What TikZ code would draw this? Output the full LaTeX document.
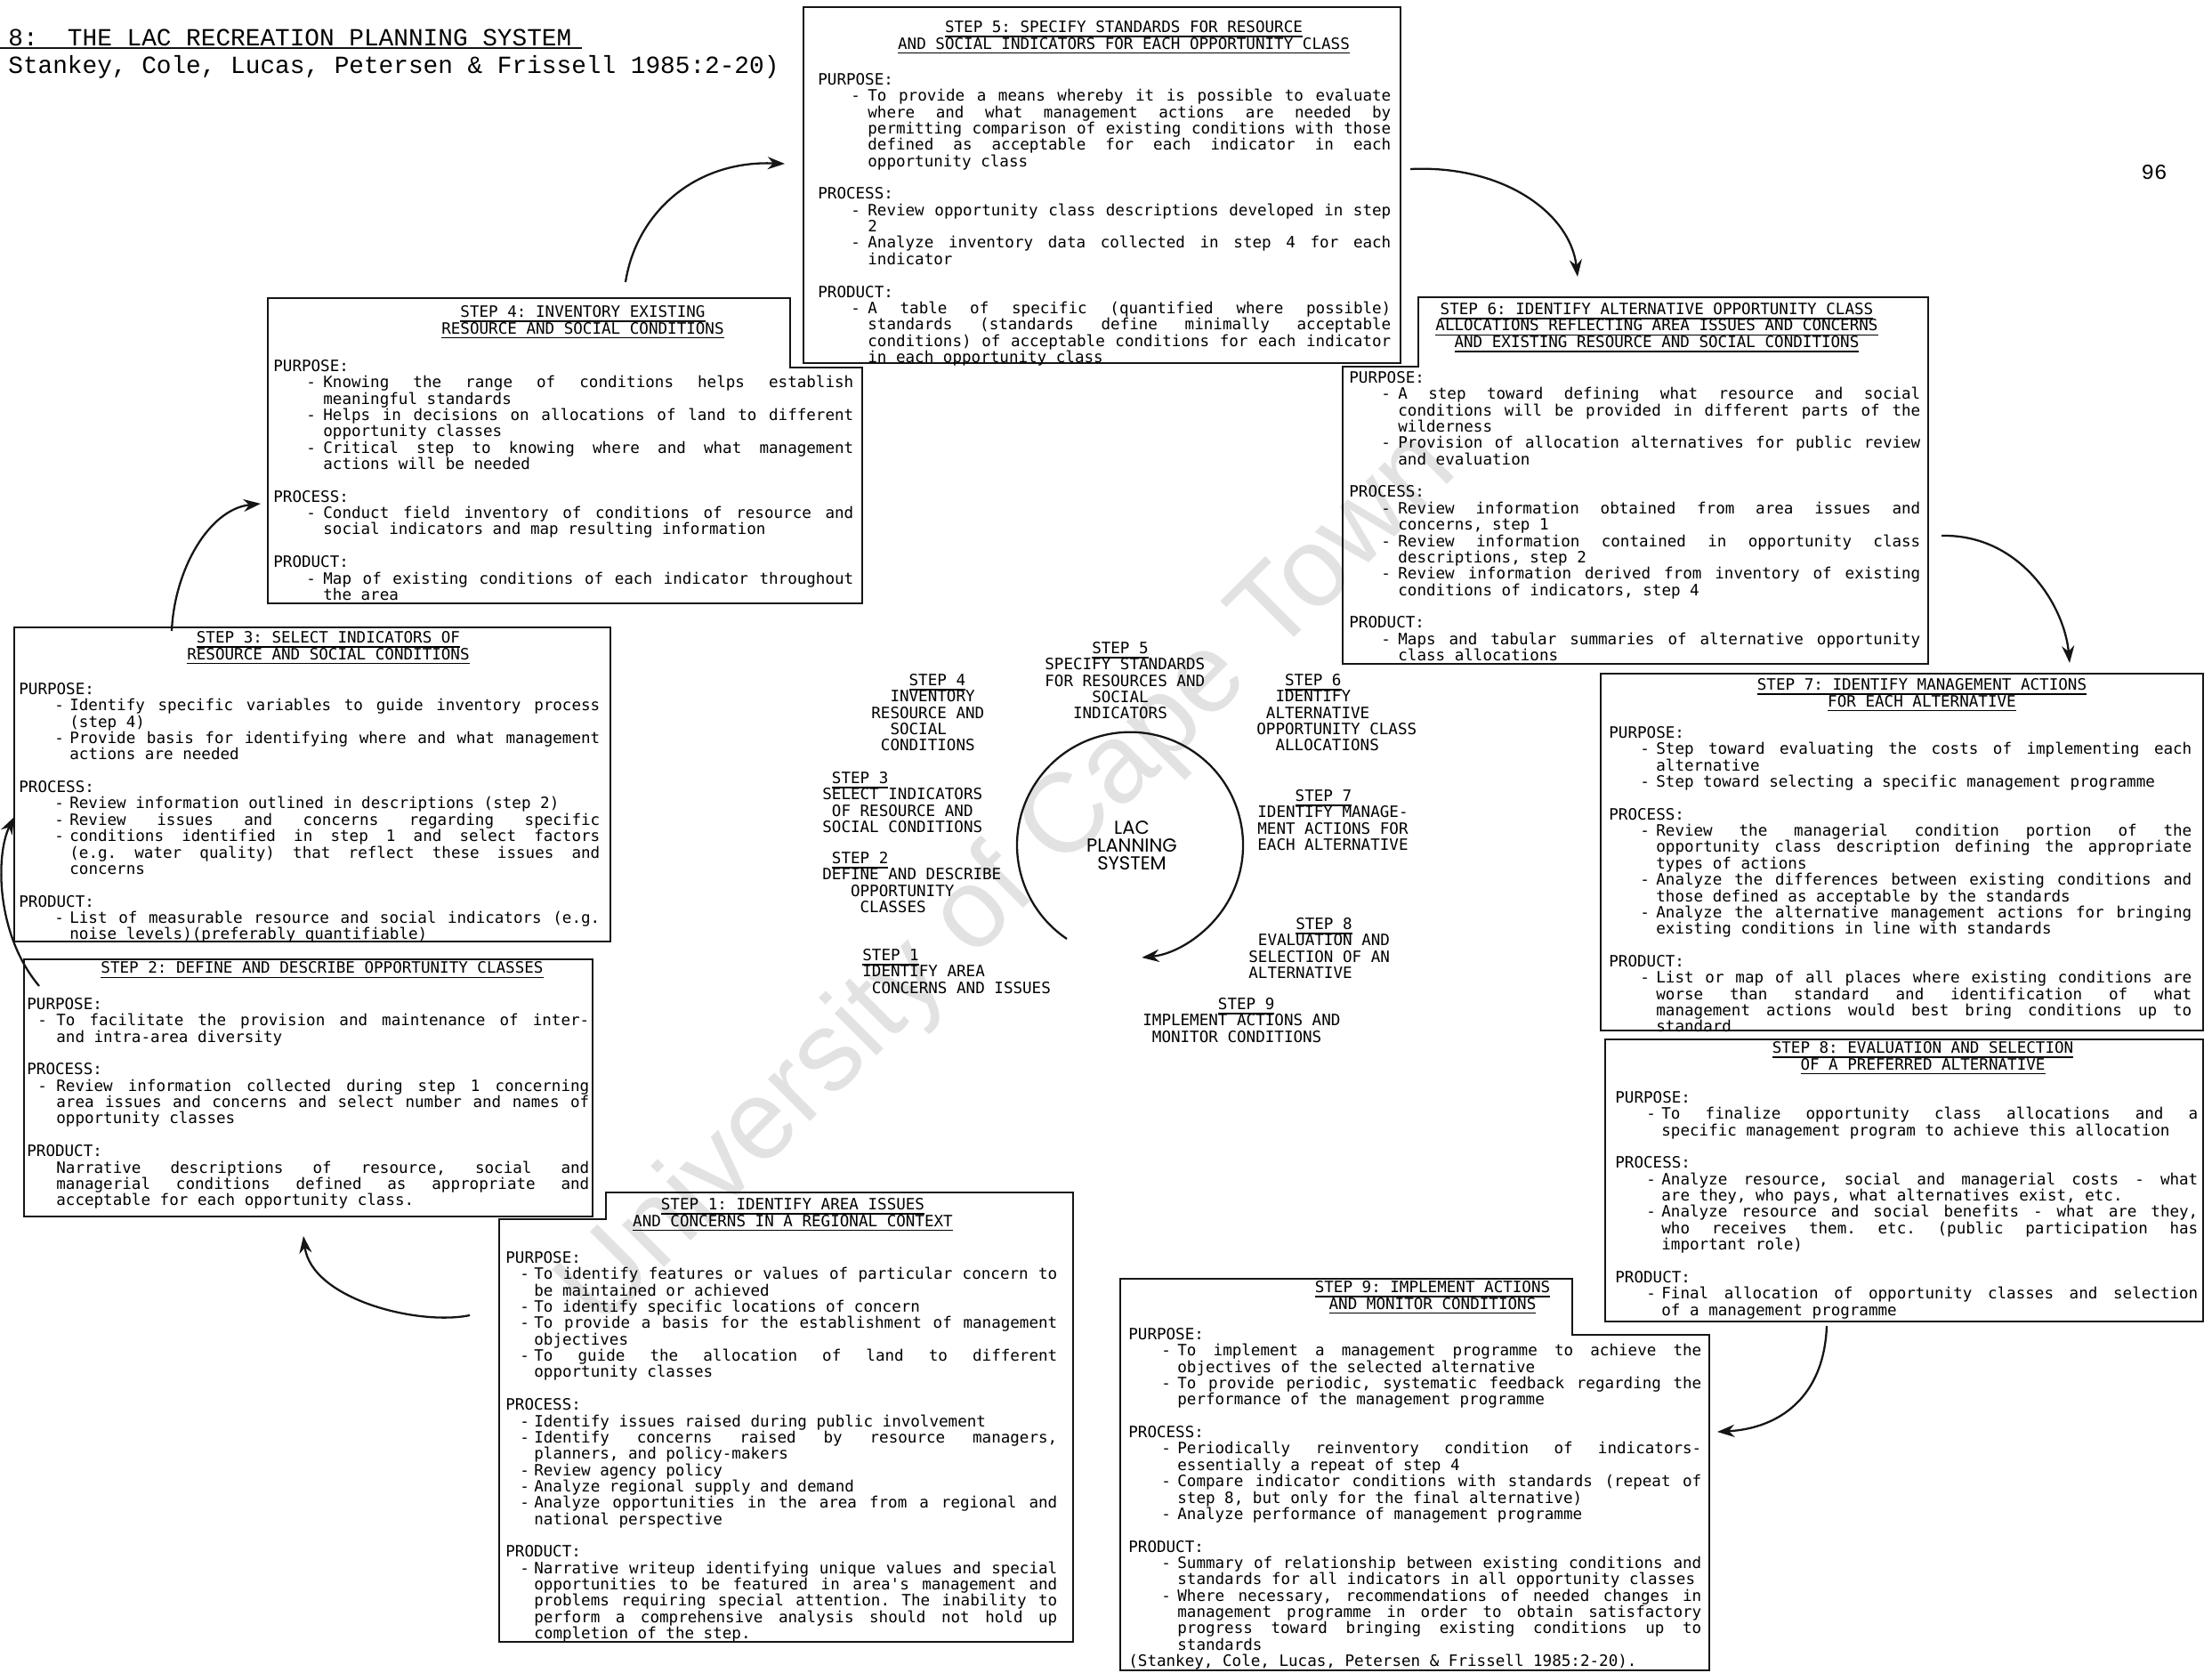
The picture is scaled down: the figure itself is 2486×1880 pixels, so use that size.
\documentclass[tikz,border=0pt]{standalone}
\usepackage{fontspec}
\setmonofont{DejaVu Sans Mono}
\newfontfamily\headfont{Liberation Mono}
\newfontfamily\lacfont{Poppins}
\newfontfamily\wmfont{Liberation Sans}
\usetikzlibrary{arrows.meta}
\definecolor{ink}{HTML}{151515}
\definecolor{wmgrey}{HTML}{E2E2E2}

\newlength\pxu \setlength\pxu{0.02cm}
\newlength\dashind \newlength\txtind \newlength\chw
\newcommand\bodyfont{\ttfamily\fontsize{10}{10.45}\selectfont}
\newcommand\bodysetup{\bodyfont\parindent=0pt\parskip=0pt\leftskip=0pt\rightskip=0pt\parfillskip=0pt plus 1fil\spaceskip=\fontdimen2\font plus 4\fontdimen2\font minus .2\fontdimen2\font\relax\xspaceskip=\spaceskip\frenchspacing\hyphenpenalty=10000\exhyphenpenalty=10000\tolerance=9000\relax}
\newcommand\itm{\par\noindent\hangindent=\txtind\hangafter=1\hspace*{\dashind}\rlap{-}\hspace*{\dimexpr\txtind-\dashind\relax}\ignorespaces}
\newcommand\txt{\par\noindent\hangindent=\txtind\hangafter=1\hspace*{\txtind}\ignorespaces}
\newcommand\hd[1]{\par\vskip\baselineskip\noindent#1\par}
\newcommand\nl{\linebreak}
\newcommand\jl{{\parfillskip=0pt\par}}
\newcommand\ul[1]{\setbox0\hbox{#1}\rlap{\rule[-3pt]{\wd0}{0.9pt}}\box0}
\newcommand\sk[1]{\hspace*{#1\chw}}

\begin{document}
\begin{tikzpicture}[x=0.02cm, y=-0.02cm, >={Stealth[length=11pt,width=8pt]},
  frame/.style={draw=ink, line width=1.5pt},
  flow/.style={draw=ink, line width=1.3pt, ->},
  boxtitle/.style={inner sep=0pt, align=center, font=\bodyfont},
  body/.style n args={3}{anchor=north west, inner sep=0pt, text width=#1\pxu, align=justify, font=\bodyfont,
    execute at begin node={\setlength\dashind{#2\pxu}\setlength\txtind{#3\pxu}\bodysetup}},
  steplab/.style={anchor=north west, inner sep=0pt, align=left, font=\bodyfont,
    execute at begin node={\settowidth\chw{0}}}]
  \useasboundingbox (0,0) rectangle (2486,1880);

  \node[rotate=45, font=\wmfont\fontsize{72}{72}\selectfont, text=wmgrey] (wm) at (1135,990) {University of Cape Town};

  \node[anchor=base west, inner sep=0pt, font=\headfont\fontsize{15.8}{16}\selectfont] (head) at (9,51) {8:~~THE LAC RECREATION PLANNING SYSTEM};
  \node[anchor=base west, inner sep=0pt, font=\headfont\fontsize{15.8}{16}\selectfont] (src) at (9,82) {Stankey, Cole, Lucas, Petersen \& Frissell 1985:2-20)};
  \draw[ink, line width=1.4pt] (0,54) -- (654,54);
  \node[font=\headfont\fontsize{13.7}{14}\selectfont] (pg) at (2421,194) {96};

  % boxes
  \draw[frame] (903,8) rectangle (1574,408);
  \draw[frame] (301,335) -- (888,335) -- (888,413) -- (969,413) -- (969,678) -- (301,678) -- cycle;
  \draw[frame] (1594,334) -- (2167,334) -- (2167,746) -- (1509,746) -- (1509,412) -- (1594,412) -- cycle;
  \draw[frame] (16,705) rectangle (686,1058);
  \draw[frame] (27,1078) rectangle (666,1367);
  \draw[frame] (1799,757) rectangle (2476,1158);
  \draw[frame] (1804,1168) rectangle (2476,1485);
  \draw[frame] (681,1340) -- (1206,1340) -- (1206,1845) -- (561,1845) -- (561,1370) -- (681,1370) -- cycle;
  \draw[frame] (1259,1437) -- (1767,1437) -- (1767,1500) -- (1921,1500) -- (1921,1877) -- (1259,1877) -- cycle;

  \node[boxtitle] (s5t) at (1263,42) {\ul{STEP 5: SPECIFY STANDARDS FOR RESOURCE}\\\ul{AND SOCIAL INDICATORS FOR EACH OPPORTUNITY CLASS}};
  \node[body={644}{37}{56}] (s5) at (919,82) {PURPOSE:
    \itm To provide a means whereby it is possible to evaluate\nl where and what management actions are needed by\nl permitting comparison of existing conditions with those\nl defined as acceptable for each indicator in each\nl opportunity class
    \hd{PROCESS:}
    \itm Review opportunity class descriptions developed in step\nl 2
    \itm Analyze inventory data collected in step 4 for each\nl indicator
    \hd{PRODUCT:}
    \itm A table of specific (quantified where possible)\nl standards (standards define minimally acceptable\nl conditions) of acceptable conditions for each indicator\nl in each opportunity class\par};

  \node[boxtitle] (s4t) at (655,362) {\ul{STEP 4: INVENTORY EXISTING}\\\ul{RESOURCE AND SOCIAL CONDITIONS}};
  \node[body={652}{37}{56}] (s4) at (307,404) {PURPOSE:
    \itm Knowing the range of conditions helps establish\nl meaningful standards
    \itm Helps in decisions on allocations of land to different\nl opportunity classes
    \itm Critical step to knowing where and what management\nl actions will be needed
    \hd{PROCESS:}
    \itm Conduct field inventory of conditions of resource and\nl social indicators and map resulting information
    \hd{PRODUCT:}
    \itm Map of existing conditions of each indicator throughout\nl the area\par};

  \node[boxtitle] (s6t) at (1862,368) {\ul{STEP 6: IDENTIFY ALTERNATIVE OPPORTUNITY CLASS}\\\ul{ALLOCATIONS REFLECTING AREA ISSUES AND CONCERNS}\\\ul{AND EXISTING RESOURCE AND SOCIAL CONDITIONS}};
  \node[body={642}{36}{55}] (s6) at (1516,417) {PURPOSE:
    \itm A step toward defining what resource and social\nl conditions will be provided in different parts of the\nl wilderness
    \itm Provision of allocation alternatives for public review\nl and evaluation
    \hd{PROCESS:}
    \itm Review information obtained from area issues and\nl concerns, step 1
    \itm Review information contained in opportunity class\nl descriptions, step 2
    \itm Review information derived from inventory of existing\nl conditions of indicators, step 4
    \hd{PRODUCT:}
    \itm Maps and tabular summaries of alternative opportunity\nl class allocations\par};

  \node[boxtitle] (s3t) at (369,728) {\ul{STEP 3: SELECT INDICATORS OF}\\\ul{RESOURCE AND SOCIAL CONDITIONS}};
  \node[body={653}{40}{57}] (s3) at (21,767) {PURPOSE:
    \itm Identify specific variables to guide inventory process\nl (step 4)
    \itm Provide basis for identifying where and what management\nl actions are needed
    \hd{PROCESS:}
    \itm Review information outlined in descriptions (step 2)
    \itm Review issues and concerns regarding specific\jl
    \itm conditions identified in step 1 and select factors\nl (e.g. water quality) that reflect these issues and\nl concerns
    \hd{PRODUCT:}
    \itm List of measurable resource and social indicators (e.g.\nl noise levels)(preferably quantifiable)\par};

  \node[boxtitle] (s2t) at (362,1090) {\ul{STEP 2: DEFINE AND DESCRIBE OPPORTUNITY CLASSES}};
  \node[body={632}{12}{33}] (s2) at (30,1121) {PURPOSE:
    \itm To facilitate the provision and maintenance of inter-\nl and intra-area diversity
    \hd{PROCESS:}
    \itm Review information collected during step 1 concerning\nl area issues and concerns and select number and names of\nl opportunity classes
    \hd{PRODUCT:}
    \txt Narrative descriptions of resource, social and\nl managerial conditions defined as appropriate and\nl acceptable for each opportunity class.\par};

  \node[boxtitle] (s7t) at (2160,781) {\ul{STEP 7: IDENTIFY MANAGEMENT ACTIONS}\\\ul{FOR EACH ALTERNATIVE}};
  \node[body={655}{35}{53}] (s7) at (1808,816) {PURPOSE:
    \itm Step toward evaluating the costs of implementing each\nl alternative
    \itm Step toward selecting a specific management programme
    \hd{PROCESS:}
    \itm Review the managerial condition portion of the\nl opportunity class description defining the appropriate\nl types of actions
    \itm Analyze the differences between existing conditions and\nl those defined as acceptable by the standards
    \itm Analyze the alternative management actions for bringing\nl existing conditions in line with standards
    \hd{PRODUCT:}
    \itm List or map of all places where existing conditions are\nl worse than standard and identification of what\nl management actions would best bring conditions up to\nl standard\par};

  \node[boxtitle] (s8t) at (2161,1189) {\ul{STEP 8: EVALUATION AND SELECTION}\\\ul{OF A PREFERRED ALTERNATIVE}};
  \node[body={655}{35}{52}] (s8) at (1815,1226) {PURPOSE:
    \itm To finalize opportunity class allocations and a\nl specific management program to achieve this allocation
    \hd{PROCESS:}
    \itm Analyze resource, social and managerial costs - what\nl are they, who pays, what alternatives exist, etc.
    \itm Analyze resource and social benefits - what are they,\nl who receives them. etc. (public participation has\nl important role)
    \hd{PRODUCT:}
    \itm Final allocation of opportunity classes and selection\nl of a management programme\par};

  \node[boxtitle] (s1t) at (891,1365) {\ul{STEP 1: IDENTIFY AREA ISSUES}\\\ul{AND CONCERNS IN A REGIONAL CONTEXT}};
  \node[body={620}{16}{32}] (s1) at (568,1406) {PURPOSE:
    \itm To identify features or values of particular concern to\nl be maintained or achieved
    \itm To identify specific locations of concern
    \itm To provide a basis for the establishment of management\nl objectives
    \itm To guide the allocation of land to different\nl opportunity classes
    \hd{PROCESS:}
    \itm Identify issues raised during public involvement
    \itm Identify concerns raised by resource managers,\nl planners, and policy-makers
    \itm Review agency policy
    \itm Analyze regional supply and demand
    \itm Analyze opportunities in the area from a regional and\nl national perspective
    \hd{PRODUCT:}
    \itm Narrative writeup identifying unique values and special\nl opportunities to be featured in area's management and\nl problems requiring special attention. The inability to\nl perform a comprehensive analysis should not hold up\nl completion of the step.\par};

  \node[boxtitle] (s9t) at (1610,1458) {\ul{STEP 9: IMPLEMENT ACTIONS}\\\ul{AND MONITOR CONDITIONS}};
  \node[body={644}{37}{55}] (s9) at (1268,1492) {PURPOSE:
    \itm To implement a management programme to achieve the\nl objectives of the selected alternative
    \itm To provide periodic, systematic feedback regarding the\nl performance of the management programme
    \hd{PROCESS:}
    \itm Periodically reinventory condition of indicators-\nl essentially a repeat of step 4
    \itm Compare indicator conditions with standards (repeat of\nl step 8, but only for the final alternative)
    \itm Analyze performance of management programme
    \hd{PRODUCT:}
    \itm Summary of relationship between existing conditions and\nl standards for all indicators in all opportunity classes
    \itm Where necessary, recommendations of needed changes in\nl management programme in order to obtain satisfactory\nl progress toward bringing existing conditions up to\nl standards
    \par\noindent(Stankey, Cole, Lucas, Petersen \& Frissell 1985:2-20).\par};

  % centre wheel
  \node[font=\lacfont\fontsize{12}{11.3}\selectfont, align=center, inner sep=0pt] (lac) at (1272,950) {LAC\\PLANNING\\SYSTEM};
  \node[steplab] (l5) at (1174,721) {\sk{5}\ul{STEP 5}\\SPECIFY STANDARDS\\FOR RESOURCES AND\\\sk{5}SOCIAL\\\sk{3}INDICATORS};
  \node[steplab] (l4) at (979,757) {\sk{4}\ul{STEP 4}\\\sk{2}INVENTORY\\RESOURCE AND\\\sk{2}SOCIAL\\\sk{1}CONDITIONS};
  \node[steplab] (l6) at (1412,757) {\sk{3}\ul{STEP 6}\\\sk{2}IDENTIFY\\\sk{1}ALTERNATIVE\\OPPORTUNITY CLASS\\\sk{2}ALLOCATIONS};
  \node[steplab] (l3) at (924,867) {\sk{1}\ul{STEP 3}\\SELECT INDICATORS\\\sk{1}OF RESOURCE AND\\SOCIAL CONDITIONS};
  \node[steplab] (l2) at (924,957) {\sk{1}\ul{STEP 2}\\DEFINE AND DESCRIBE\\\sk{3}OPPORTUNITY\\\sk{4}CLASSES};
  \node[steplab] (l7) at (1413,887) {\sk{4}\ul{STEP 7}\\IDENTIFY MANAGE-\\MENT ACTIONS FOR\\EACH ALTERNATIVE};
  \node[steplab] (l8) at (1403,1031) {\sk{5}\ul{STEP 8}\\\sk{1}EVALUATION AND\\SELECTION OF AN\\ALTERNATIVE};
  \node[steplab] (l1) at (969,1066) {\ul{STEP 1}\\IDENTIFY AREA\\\sk{1}CONCERNS AND ISSUES};
  \node[steplab] (l9) at (1284,1121) {\sk{8}\ul{STEP 9}\\IMPLEMENT ACTIONS AND\\\sk{1}MONITOR CONDITIONS};

  \coordinate (cs) at (1199,1055);
  \draw[flow] (cs) arc[start angle=124, end angle=444, radius=127];

  % links between the boxes
  \coordinate (a12) at (528,1478);  \coordinate (b12) at (341,1389);
  \coordinate (a23) at (44,1108);   \coordinate (b23) at (16,918);
  \coordinate (a34) at (193,709);   \coordinate (b34) at (293,566);
  \coordinate (a45) at (703,317);   \coordinate (b45) at (882,184);
  \coordinate (a56) at (1585,190);  \coordinate (b56) at (1773,311);
  \coordinate (a67) at (2182,602);  \coordinate (b67) at (2326,745);
  \coordinate (a89) at (2053,1490); \coordinate (b89) at (1930,1609);

  \draw[flow] (a12) .. controls (470,1490) and (350,1460) .. (b12);
  \draw[flow] (a23) .. controls (-5,1050) and (-5,960) .. (b23);
  \draw[flow] (a34) .. controls (196,640) and (235,572) .. (b34);
  \draw[flow] (a45) .. controls (715,240) and (780,180) .. (b45);
  \draw[flow] (a56) .. controls (1690,185) and (1765,240) .. (b56);
  \draw[flow] (a67) .. controls (2270,600) and (2320,680) .. (b67);
  \draw[flow] (a89) .. controls (2050,1570) and (2000,1605) .. (b89);
\end{tikzpicture}
\end{document}
